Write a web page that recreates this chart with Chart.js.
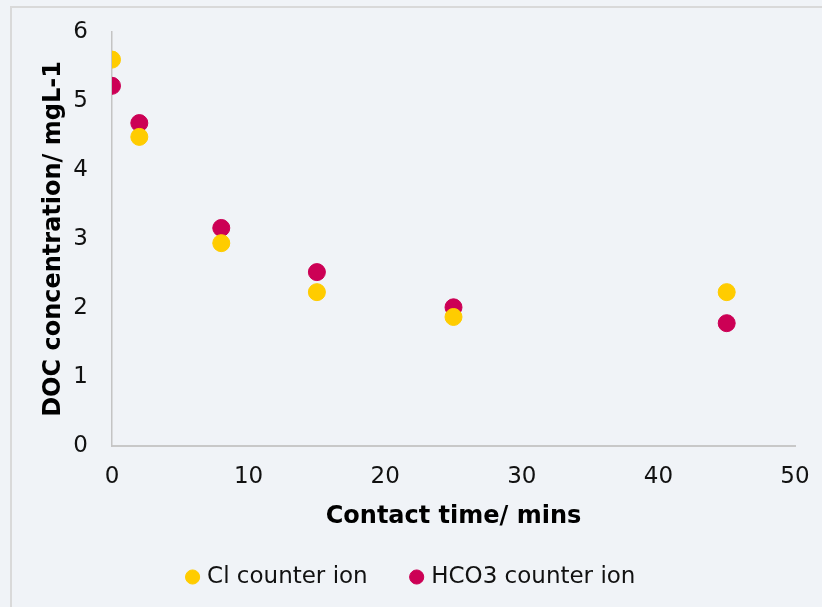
<!DOCTYPE html>
<html>
<head>
<meta charset="utf-8">
<script src="https://cdn.jsdelivr.net/npm/chart.js@4/dist/chart.umd.min.js"></script>
<style>
  html, body { margin: 0; padding: 0; background: #f0f3f7; }
  #wrap { width: 822px; height: 607px; }
</style>
</head>
<body>
<div id="wrap"><canvas id="chart" width="822" height="607"></canvas></div>
<script>
// --- DATOS ---
const contactTime = [0, 2, 8, 15, 25, 45];
const clValues = [5.6, 4.48, 2.94, 2.23, 1.87, 2.23];
const hco3Values = [5.22, 4.68, 3.16, 2.52, 2.01, 1.78];
const seriesNames = ["Cl counter ion", "HCO3 counter ion"];
const xTicks = [0, 10, 20, 30, 40, 50];
const yTicks = [0, 1, 2, 3, 4, 5, 6];

const toPoints = (ys) => contactTime.map((x, i) => ({ x, y: ys[i] }));

// fondo gris claro y marco fino
const frame = {
  id: "frame",
  beforeDraw(chart) {
    const { ctx, width, height } = chart;
    ctx.save();
    ctx.fillStyle = "#f0f3f7";
    ctx.fillRect(0, 0, width, height);
    ctx.strokeStyle = "#d9d9d9";
    ctx.lineWidth = 2;
    ctx.strokeRect(11, 7, width + 20, height + 20);
    ctx.restore();
  },
};

const tickFont = { family: "DejaVu Sans", size: 23 };
const titleFont = { family: "DejaVu Sans", size: 24, weight: "bold" };

new Chart(document.getElementById("chart"), {
  type: "scatter",
  data: {
    datasets: [
      {
        label: seriesNames[0],
        data: toPoints(clValues),
        backgroundColor: "#ffcc00",
        borderColor: "#ffcc00",
        pointRadius: 8.5,
        pointHoverRadius: 8.5,
      },
      {
        label: seriesNames[1],
        data: toPoints(hco3Values),
        backgroundColor: "#cc0055",
        borderColor: "#cc0055",
        pointRadius: 8.5,
        pointHoverRadius: 8.5,
      },
    ],
  },
  options: {
    responsive: false,
    animation: false,
    layout: { padding: { left: 30, right: 27, top: 32, bottom: 8.5 } },
    plugins: {
      tooltip: { enabled: false },
      legend: {
        position: "bottom",
        labels: {
          usePointStyle: true,
          pointStyle: "circle",
          boxWidth: 6,
          boxHeight: 10,
          padding: 46,
          color: "#111",
          font: { family: "DejaVu Sans", size: 23 },
        },
      },
    },
    scales: {
      x: {
        type: "linear",
        min: 0,
        max: 50,
        afterBuildTicks: (s) => { s.ticks = xTicks.map((v) => ({ value: v })); },
        afterFit: (s) => {
          s.height = 73.5;
          s.paddingLeft = 0;
          s.paddingRight = 0;
        },
        grid: { display: false, drawTicks: false },
        border: { color: "#c8c8c8", width: 2 },
        ticks: { color: "#111", font: tickFont, padding: 17, maxRotation: 0 },
        title: {
          display: true,
          text: "Contact time/ mins",
          color: "#000",
          font: titleFont,
          padding: { top: 0, bottom: -12 },
        },
      },
      y: {
        min: 0,
        max: 6,
        afterBuildTicks: (s) => { s.ticks = yTicks.map((v) => ({ value: v })); },
        afterFit: (s) => {
          s.width = 82;
          s.paddingTop = 0;
          s.paddingBottom = 0;
        },
        grid: { display: false, drawTicks: false },
        border: { color: "#c4c4c4", width: 1.5 },
        ticks: { color: "#111", font: tickFont, padding: 24 },
        title: {
          display: true,
          text: "DOC concentration/ mgL-1",
          color: "#000",
          font: titleFont,
          padding: { top: 9.5, bottom: 0 },
        },
      },
    },
  },
  plugins: [frame],
});
</script>
</body>
</html>
